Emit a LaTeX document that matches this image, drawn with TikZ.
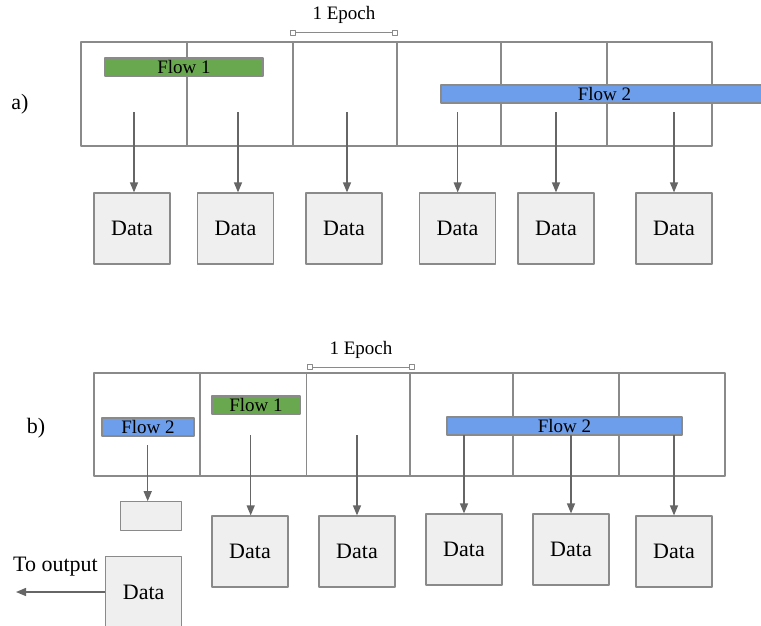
\documentclass[tikz,border=0pt]{standalone}
\usepackage{fontspec}
\setmainfont{Liberation Serif}
\usetikzlibrary{arrows.meta}

\definecolor{flowgreen}{HTML}{6AA84F}
\definecolor{flowblue}{HTML}{6D9EEB}
\definecolor{boxfill}{HTML}{EFEFEF}
\definecolor{gridcol}{HTML}{8A8A8A}
\definecolor{arrowcol}{HTML}{666666}

\begin{document}
\begin{tikzpicture}[x=1pt, y=-1pt, >={Triangle[length=10pt,width=8pt]}, line join=round,
  box/.style={draw=gridcol, fill=boxfill, line width=1.2pt, minimum width=76pt, minimum height=71pt, inner sep=0pt, font=\fontsize{22}{26}\selectfont},
  flowbar/.style={draw=gridcol, line width=1.1pt, minimum height=18pt, inner sep=0pt, font=\fontsize{19}{22}\selectfont},
  link/.style={->, draw=arrowcol, fill=arrowcol, line width=1.3pt},
  tick/.style={draw=gridcol, fill=white, line width=1pt, minimum size=5pt, inner sep=0pt},
  slot/.style={draw=gridcol, line width=1.2pt},
  lbl/.style={font=\fontsize{22}{26}\selectfont, inner sep=0pt},
  eplbl/.style={font=\fontsize{19}{22}\selectfont, inner sep=0pt}]

  % ===== 枠 =====
  \clip (0,0) rectangle (761,625);
  \fill[white] (0,0) rectangle (761,625);

  % ===== a) =====
  \node[lbl] (labA) at (20,104) {a)};
  \draw[slot] (81,42) rectangle (712,146);
  \foreach \x in {187,293,397,501,607}
    \draw[slot] (\x,42) -- (\x,146);

  % ---- 1 Epoch ----
  \node[tick] (eA1) at (293,32.5) {};
  \node[tick] (eA2) at (395,32.5) {};
  \draw[slot, line width=1pt] (eA1) -- (eA2);
  \node[eplbl] (epA) at (344,15) {1 Epoch};

  % ---- フロー ----
  \node[flowbar, fill=flowgreen, minimum width=158pt] (fA1) at (184,67) {Flow 1};
  \node[flowbar, fill=flowblue, minimum width=327pt] (fA2) at (604.5,94) {Flow 2};

  % ---- データ ----
  \foreach \i/\bx/\ax in {1/132/134, 2/235.5/238, 3/344/347, 4/457.5/457.7, 5/556/556, 6/674/674} {
    \node[box] (dA\i) at (\bx,228.5) {Data};
    \coordinate (sA\i) at (\ax,112);
    \draw[link] (sA\i) -- (sA\i |- dA\i.north);
  }

  % ===== b) =====
  \node[lbl] (labB) at (36,428) {b)};
  \draw[slot] (94,373) rectangle (725,476);
  \foreach \x in {200,306.5,410,513,619}
    \draw[slot] (\x,373) -- (\x,476);

  % ---- 1 Epoch ----
  \node[tick] (eB1) at (310,367) {};
  \node[tick] (eB2) at (412,367) {};
  \draw[slot, line width=1pt] (eB1) -- (eB2);
  \node[eplbl] (epB) at (361,350) {1 Epoch};

  % ---- フロー ----
  \node[flowbar, fill=flowblue, minimum width=92pt] (fB2s) at (148,427) {Flow 2};
  \node[flowbar, fill=flowgreen, minimum width=88pt] (fB1) at (256,405) {Flow 1};
  \node[flowbar, fill=flowblue, minimum width=235pt] (fB2) at (564.5,426) {Flow 2};

  % ---- バッファ ----
  \node[box, minimum width=61pt, minimum height=29pt] (bufB) at (151,516.3) {};
  \coordinate (sB0) at (147.7,445);
  \draw[link] (sB0) -- (sB0 |- bufB.north);

  % ---- データ ----
  \foreach \i/\bx/\by/\ax in {1/250/551.5/250.7, 2/357/551.5/357, 3/464/549.5/464, 4/571/549.5/571, 5/674/551.5/674} {
    \node[box] (dB\i) at (\bx,\by) {Data};
    \coordinate (sB\i) at (\ax,435);
    \draw[link] (sB\i) -- (sB\i |- dB\i.north);
  }

  % ---- 出力 ----
  \node[box] (outB) at (143.7,592) {Data};
  \node[lbl] (toOut) at (55.5,567) {To output};
  \coordinate (outEnd) at (16,592);
  \draw[link] (outB.west) -- (outEnd);

\end{tikzpicture}
\end{document}
